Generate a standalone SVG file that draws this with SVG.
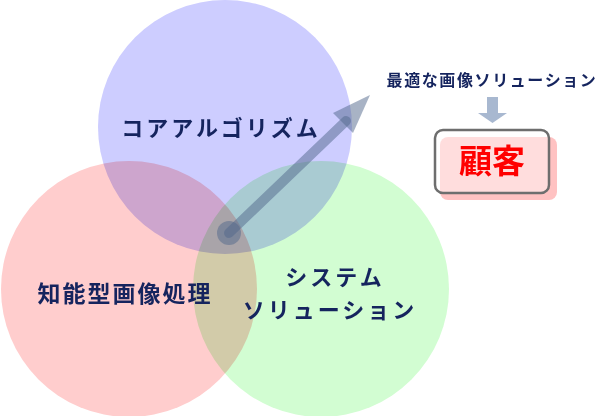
<svg xmlns="http://www.w3.org/2000/svg" width="600" height="416" viewBox="0 0 600 416">
<style>
.c{mix-blend-mode:multiply}
.t{font-family:"Noto Sans CJK JP","Noto Sans CJK SC",sans-serif;font-weight:700;fill:#15245e;text-anchor:middle}
.a{fill:#52688c;opacity:0.5}
</style>
<rect width="600" height="416" fill="#ffffff"/>
<g id="venn" style="isolation:isolate">
<g id="node-core"><circle class="c" cx="225" cy="127" r="127" fill="#cdcdff"/></g>
<g id="node-image"><circle class="c" cx="129" cy="289" r="128" fill="#ffcdcd"/></g>
<g id="node-system"><circle class="c" cx="321" cy="289" r="128" fill="#d2fdd2"/></g>
</g>
<text class="t" x="221" y="136" font-size="22" letter-spacing="3">コアアルゴリズム</text>
<text class="t" x="125" y="302" font-size="23" letter-spacing="2">知能型画像処理</text>
<text class="t" x="335" y="285" font-size="22" letter-spacing="3">システム</text>
<text class="t" x="330" y="318" font-size="22" letter-spacing="3">ソリューション</text>
<g id="connectors">
<circle class="a" cx="229" cy="233" r="12"/>
<line x1="229" y1="233" x2="346" y2="121" stroke="#52688c" stroke-width="10" stroke-linecap="round" opacity="0.5"/>
<polygon class="a" points="370,95 333,113 353,133"/>
<polygon points="487,97 498,97 498,113 507,113 492.5,123 478,113 487,113" fill="#a8b8d0"/>
</g>
<g id="node-solution">
<text class="t" x="492" y="86" font-size="16" letter-spacing="1.6">最適な画像ソリューション</text>
</g>
<g id="node-customer">
<rect x="440" y="137" width="117" height="63" rx="8" fill="#ffc2c2"/>
<rect x="435" y="130" width="114" height="63" rx="8" fill="#ffffff" fill-opacity="0.45" stroke="#6e6e6e" stroke-width="2.5"/>
<text x="492" y="173" font-family="'Noto Sans CJK JP',sans-serif" font-weight="700" font-size="33" fill="#ff0000" text-anchor="middle">顧客</text>
</g>
</svg>
